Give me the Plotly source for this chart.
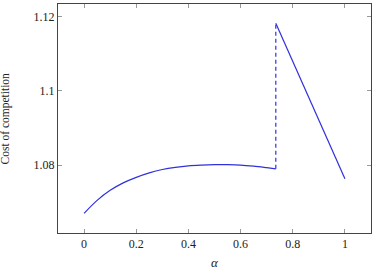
import plotly.graph_objects as go

# Data
alpha_curve = [0.0, 0.05, 0.1, 0.15, 0.2, 0.25, 0.3, 0.35, 0.4, 0.45, 0.5, 0.55, 0.6, 0.65, 0.7, 0.735]
cost_curve = [1.0670, 1.0705, 1.0732, 1.0752, 1.0767, 1.0779, 1.0788, 1.0794, 1.0798, 1.0800,
              1.0801, 1.0801, 1.0800, 1.0797, 1.0793, 1.0790]
alpha_jump = [0.735, 0.735]
cost_jump = [1.0790, 1.1182]
alpha_tail = [0.735, 0.87, 1.0]
cost_tail = [1.1182, 1.0970, 1.0763]

x_ticks = [0, 0.2, 0.4, 0.6, 0.8, 1]
x_ticktext = ["0", "0.2", "0.4", "0.6", "0.8", "1"]
y_ticks = [1.08, 1.1, 1.12]
y_ticktext = ["1.08", "1.1", "1.12"]

blue = "#3030dc"
serif = "Liberation Serif, Times New Roman, serif"
font = dict(family=serif, size=12, color="#222")

fig = go.Figure()
fig.add_trace(go.Scatter(x=alpha_curve, y=cost_curve, mode="lines",
                         line=dict(color=blue, width=1.2, shape="spline"), hoverinfo="skip"))
fig.add_trace(go.Scatter(x=alpha_jump, y=cost_jump, mode="lines",
                         line=dict(color=blue, width=1.2, dash="4px,3px"), hoverinfo="skip"))
fig.add_trace(go.Scatter(x=alpha_tail, y=cost_tail, mode="lines",
                         line=dict(color=blue, width=1.2), hoverinfo="skip"))

axis_common = dict(showgrid=False, zeroline=False, showline=True, linecolor="#444", linewidth=1,
                   mirror="ticks", ticks="inside", ticklen=4, tickcolor="#999", tickwidth=1,
                   tickfont=font)

fig.update_layout(
    width=373, height=271,
    margin=dict(l=58, r=2, t=4, b=38),
    paper_bgcolor="white", plot_bgcolor="white",
    showlegend=False,
    font=font,
    xaxis=dict(range=[-0.1, 1.1], tickvals=x_ticks, ticktext=x_ticktext, **axis_common),
    yaxis=dict(range=[1.0617, 1.1234], tickvals=y_ticks, ticktext=y_ticktext, **axis_common),
    annotations=[
        dict(text="Cost of competition", xref="paper", yref="paper", x=0, y=0.5,
             xanchor="center", yanchor="middle", xshift=-53, textangle=-90,
             showarrow=False, font=dict(family=serif, size=11.5, color="#222")),
        dict(text="<i>α</i>", xref="paper", yref="paper", x=0.5, y=0,
             xanchor="center", yanchor="middle", yshift=-29,
             showarrow=False, font=dict(family=serif, size=13, color="#222")),
    ],
)

fig.write_html("out.html")
